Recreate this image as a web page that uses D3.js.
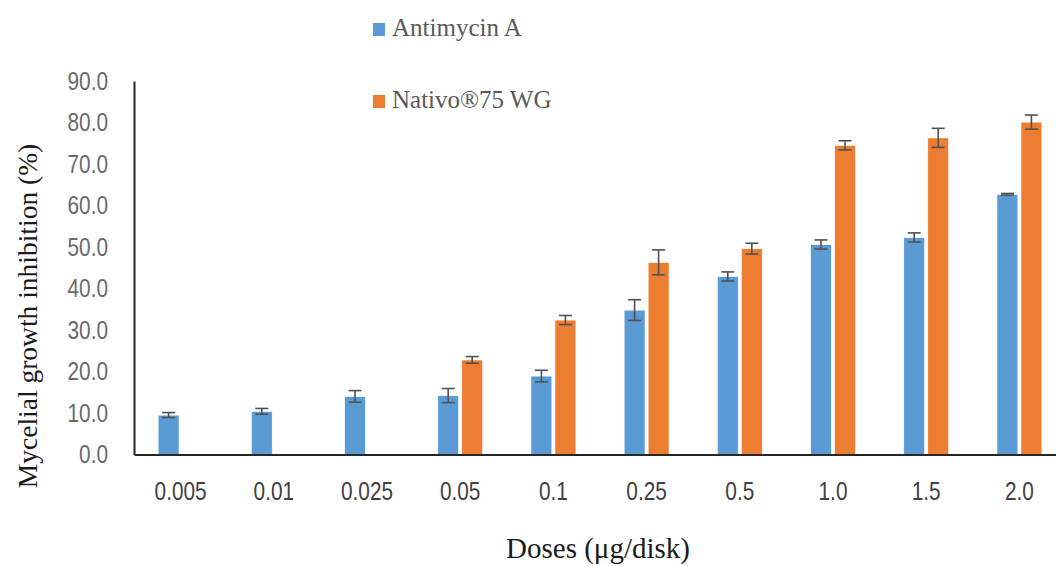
<!DOCTYPE html>
<html>
<head>
<meta charset="utf-8">
<script src="https://cdn.jsdelivr.net/npm/d3@7"></script>
<style>
  body { margin: 0; background: #fff; }
  svg { display: block; }
</style>
</head>
<body>
<svg id="chart" width="1056" height="566"></svg>
<script>
// doses on the x axis
var doses = ["0.005", "0.01", "0.025", "0.05", "0.1", "0.25", "0.5", "1.0", "1.5", "2.0"];
var seriesNames = ["Antimycin A", "Nativo®75 WG"];

// mean inhibition (%) and error
var antimycin = [9.5, 10.4, 14.0, 14.2, 18.9, 34.8, 42.9, 50.6, 52.3, 62.7];
var antimycinErr = [0.6, 0.7, 1.4, 1.7, 1.4, 2.5, 1.1, 1.1, 1.1, 0.2];
var nativo = [null, null, null, 22.8, 32.4, 46.3, 49.6, 74.5, 76.3, 80.1];
var nativoErr = [null, null, null, 0.8, 1.1, 3.0, 1.3, 1.1, 2.3, 1.7];

var yTicks = [0, 10, 20, 30, 40, 50, 60, 70, 80, 90];
var colors = ["#5b9bd5", "#ed7d31"];

var svg = d3.select("#chart");

// outer band per dose, inner band per series
var x0 = d3.scaleBand()
  .domain(doses)
  .range([134, 1066])
  .paddingInner(0.517)
  .paddingOuter(0.2585);

var x1 = d3.scaleBand()
  .domain(seriesNames)
  .range([0, x0.bandwidth()])
  .paddingInner(0.125);

var y = d3.scaleLinear()
  .domain([0, 90])
  .range([454.5, 81]);

var color = d3.scaleOrdinal().domain(seriesNames).range(colors);

// rows: one per dose with both series
var rows = doses.map(function(d, i) {
  return {
    dose: d,
    vals: [
      { name: seriesNames[0], v: antimycin[i], e: antimycinErr[i] },
      { name: seriesNames[1], v: nativo[i], e: nativoErr[i] }
    ].filter(function(s) { return s.v != null; })
  };
});

var groups = svg.append("g").selectAll("g")
  .data(rows).enter().append("g")
  .attr("transform", d => "translate(" + x0(d.dose) + ",0)");

groups.selectAll("rect")
  .data(d => d.vals).enter().append("rect")
  .attr("x", d => x1(d.name))
  .attr("width", x1.bandwidth())
  .attr("y", d => y(d.v))
  .attr("height", d => y(0) - y(d.v))
  .attr("fill", d => color(d.name))
  .attr("stroke", "#fff")
  .attr("stroke-width", 0.75);

// error bars
var capW = 13;
var eb = groups.selectAll("g.err")
  .data(d => d.vals).enter().append("g")
  .attr("class", "err")
  .attr("stroke", "#505050")
  .attr("stroke-width", 1.6);

eb.append("line")
  .attr("x1", d => x1(d.name) + x1.bandwidth() / 2)
  .attr("x2", d => x1(d.name) + x1.bandwidth() / 2)
  .attr("y1", d => y(d.v + d.e))
  .attr("y2", d => y(d.v - d.e));
eb.append("line")
  .attr("x1", d => x1(d.name) + x1.bandwidth() / 2 - capW / 2)
  .attr("x2", d => x1(d.name) + x1.bandwidth() / 2 + capW / 2)
  .attr("y1", d => y(d.v + d.e))
  .attr("y2", d => y(d.v + d.e));
eb.append("line")
  .attr("x1", d => x1(d.name) + x1.bandwidth() / 2 - capW / 2)
  .attr("x2", d => x1(d.name) + x1.bandwidth() / 2 + capW / 2)
  .attr("y1", d => y(d.v - d.e))
  .attr("y2", d => y(d.v - d.e));

// axes - tick labels are a narrow sans, so squeeze them horizontally
var tickFont = "'Liberation Sans', Arial, sans-serif";
var squeeze = 0.8;

var yAxis = svg.append("g")
  .attr("transform", "translate(134,0)")
  .call(d3.axisLeft(y).tickValues(yTicks).tickFormat(d3.format(".1f"))
    .tickSize(0).tickPadding(26));
yAxis.select(".domain").attr("stroke", "#262626").attr("stroke-width", 2);
yAxis.selectAll("text")
  .attr("x", 0)
  .attr("transform", "translate(-26,0) scale(" + squeeze + ",1)")
  .attr("font-family", tickFont)
  .attr("font-size", 26)
  .attr("fill", "#6a6a6a");

var xAxis = svg.append("g")
  .attr("transform", "translate(0," + y(0) + ")")
  .call(d3.axisBottom(x0).tickSize(0).tickPadding(27));
xAxis.select(".domain").attr("stroke", "#262626").attr("stroke-width", 2);
xAxis.selectAll("text")
  .attr("transform", "scale(" + squeeze + ",1)")
  .attr("font-family", tickFont)
  .attr("font-size", 26)
  .attr("fill", "#404040");

// axis titles
var serif = "'Liberation Serif', 'DejaVu Serif', serif";
svg.append("text")
  .attr("transform", "translate(37,316) rotate(-90)")
  .attr("text-anchor", "middle")
  .attr("font-family", serif)
  .attr("font-size", 27.5)
  .attr("fill", "#1a1a1a")
  .text("Mycelial growth inhibition (%)");

svg.append("text")
  .attr("x", 598)
  .attr("y", 558)
  .attr("text-anchor", "middle")
  .attr("font-family", serif)
  .attr("font-size", 29)
  .attr("fill", "#1a1a1a")
  .text("Doses (μg/disk)");

// legend
var legend = svg.append("g").selectAll("g")
  .data(seriesNames).enter().append("g")
  .attr("transform", (d, i) => "translate(373," + (36 + i * 72) + ")");
legend.append("rect")
  .attr("x", 0).attr("y", -13)
  .attr("width", 12).attr("height", 13)
  .attr("fill", d => color(d));
legend.append("text")
  .attr("x", 19)
  .attr("font-family", serif)
  .attr("font-size", 25)
  .attr("fill", "#595959")
  .text(d => d);
</script>
</body>
</html>
